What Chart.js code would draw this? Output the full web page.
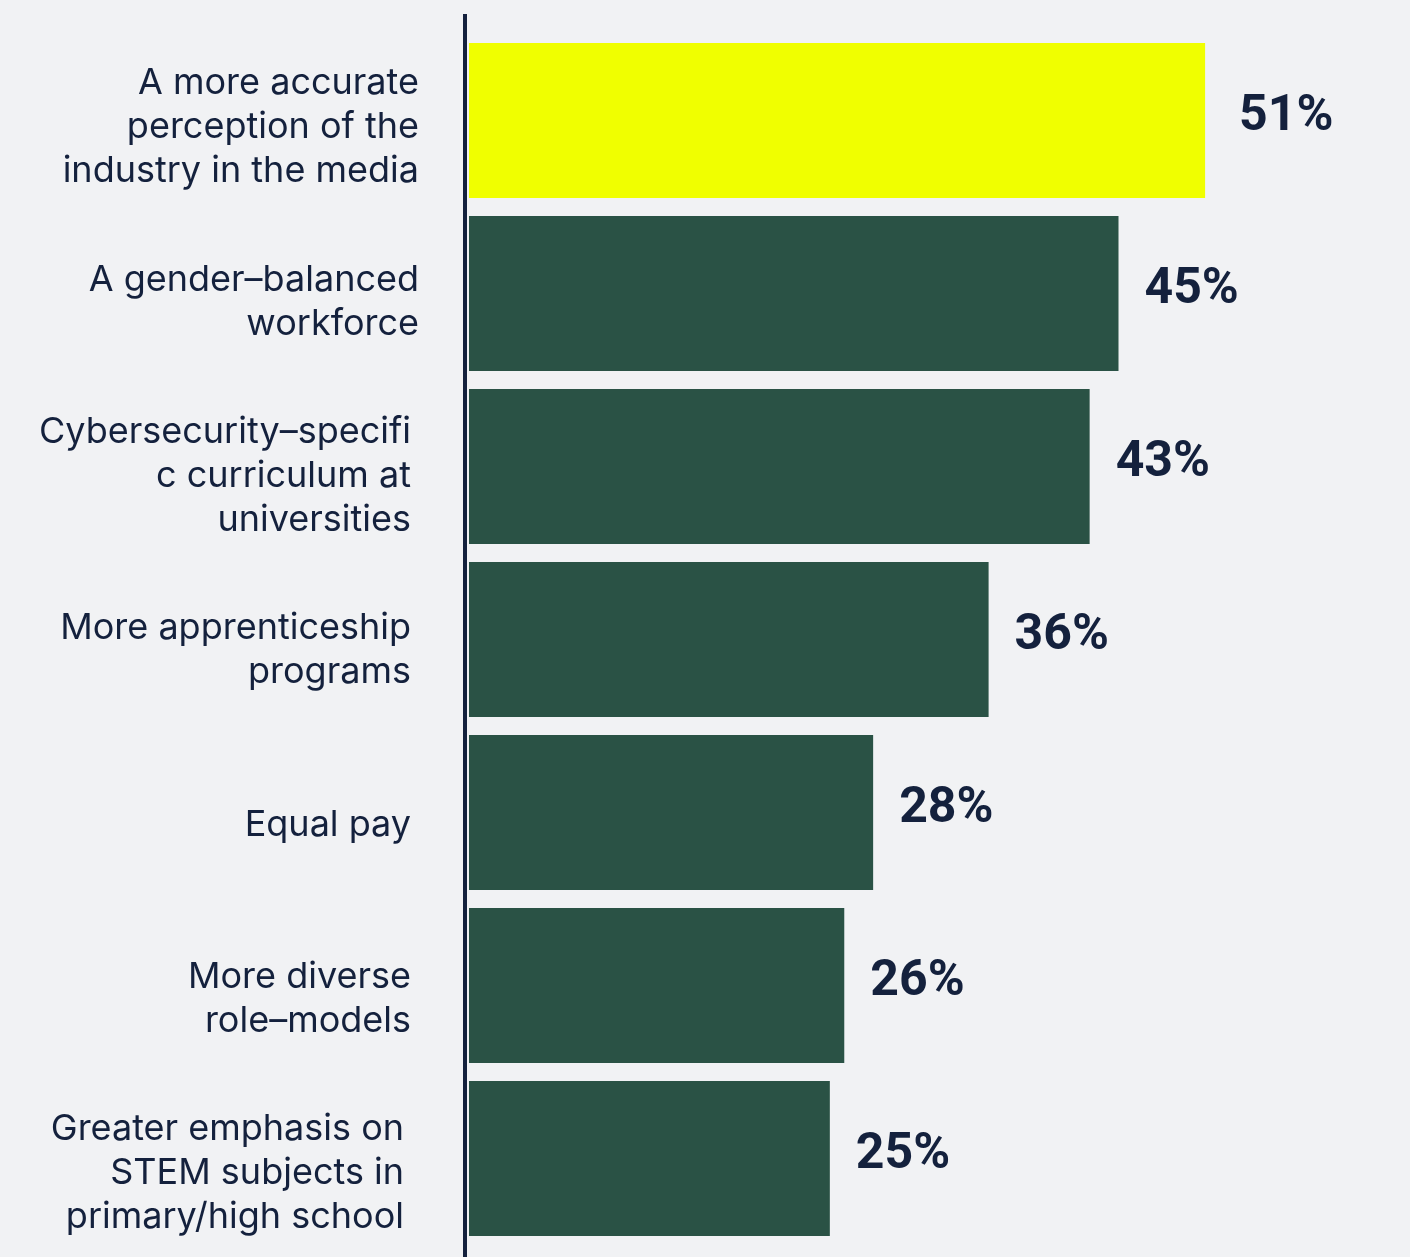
<!DOCTYPE html>
<html>
<head>
<meta charset="utf-8">
<script src="https://cdn.jsdelivr.net/npm/chart.js@4"></script>
<style>
  html, body { margin: 0; padding: 0; background: #f1f2f4; }
  #wrap { width: 1410px; height: 1257px; }
</style>
</head>
<body>
<div id="wrap"><canvas id="chart" width="1410" height="1257"></canvas></div>
<script>
const categories = [
    ['A more accurate', 'perception of the', 'industry in the media'],
    ['A gender–balanced', 'workforce'],
    ['Cybersecurity–specifi', 'c curriculum at', 'universities'],
    ['More apprenticeship', 'programs'],
    ['Equal pay'],
    ['More diverse', 'role–models'],
    ['Greater emphasis on', 'STEM subjects in', 'primary/high school'],
];
const shares = [51, 45, 43, 36, 28, 26, 25];
const valueLabels = ['51%', '45%', '43%', '36%', '28%', '26%', '25%'];

const barColors = shares.map((v, i) => (i === 0 ? '#f0ff00' : '#2a5245'));
const ink = '#14213d';
// right edge of each category label block
const labelRight = [419, 419, 411, 411, 411, 411, 404];

const axisAndLabels = {
    id: 'axisAndLabels',
    afterDatasetsDraw: (chart) => {
        const { ctx, chartArea, scales } = chart;
        const meta = chart.getDatasetMeta(0);

        // vertical baseline
        ctx.save();
        ctx.fillStyle = ink;
        ctx.fillRect(chartArea.left - 6, 14, 4, chart.height - 14);

        // category labels
        ctx.font = '36px Inter';
        ctx.textAlign = 'right';
        ctx.textBaseline = 'middle';
        categories.forEach((lines, i) => {
            const cy = scales.y.getPixelForValue(i) + 7 + i * 1.3;
            const lh = 44;
            const top = cy - (lines.length - 1) * lh / 2;
            lines.forEach((line, j) => {
                ctx.fillText(line, labelRight[i], top + j * lh);
            });
        });

        // value labels
        ctx.font = 'bold 50px Roboto';
        ctx.textAlign = 'left';
        meta.data.forEach((bar, i) => {
            const pad = i === 0 ? 34 : 26;
            ctx.fillText(valueLabels[i], bar.x + pad, bar.y - 3);
        });
        ctx.restore();
    },
};

new Chart(document.getElementById('chart'), {
    type: 'bar',
    data: {
        labels: categories,
        datasets: [{
            data: shares,
            backgroundColor: barColors,
            borderWidth: 0,
            barPercentage: 0.896,
            categoryPercentage: 1,
        }],
    },
    options: {
        indexAxis: 'y',
        responsive: false,
        animation: false,
        layout: {
            padding: { left: 469, right: 75, top: 34, bottom: 12 },
        },
        plugins: {
            legend: { display: false },
            tooltip: { enabled: false },
        },
        scales: {
            x: { min: 0, max: 60, display: false, grid: { display: false } },
            y: { display: false, grid: { display: false } },
        },
    },
    plugins: [axisAndLabels],
});
</script>
</body>
</html>
